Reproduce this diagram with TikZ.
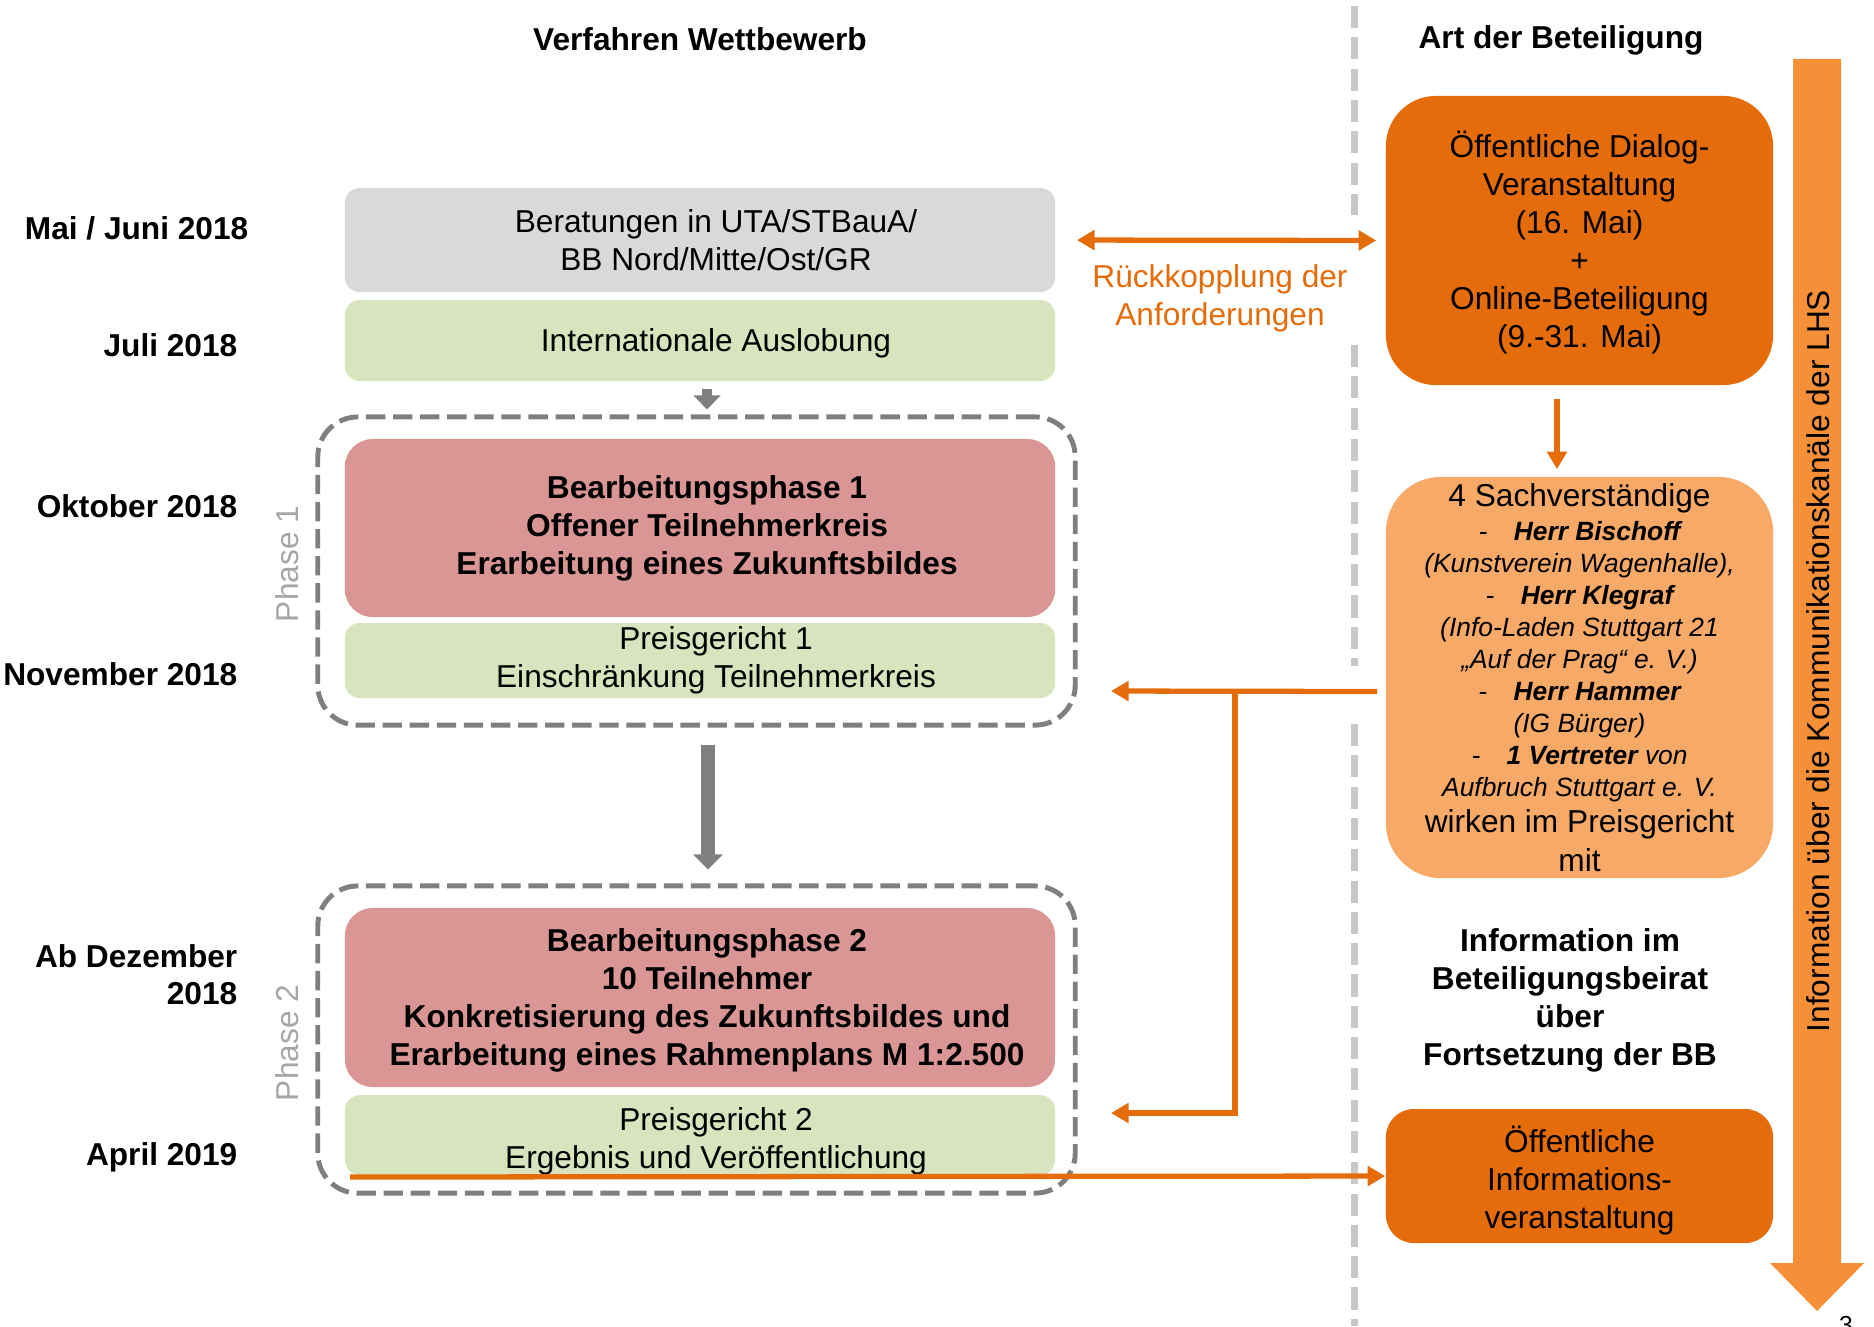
\documentclass[tikz,border=0pt]{standalone}
\usepackage{fontspec}
\setmainfont{Liberation Sans}
\usetikzlibrary{arrows.meta, positioning}
\definecolor{BoxGrey}{HTML}{D9D9D9}
\definecolor{BoxGreen}{HTML}{D7E4BD}
\definecolor{BoxRed}{HTML}{D99694}
\definecolor{COrange}{HTML}{E46C0A}
\definecolor{CLightOrange}{HTML}{F7A968}
\definecolor{CArrowOrange}{HTML}{F59039}
\definecolor{CFrame}{HTML}{7F7F7F}
\definecolor{CSep}{HTML}{C8C8C8}
\definecolor{CPhase}{HTML}{A6A6A6}
\newcommand{\kleinkursiv}{\fontsize{7.5}{9.1}\selectfont\itshape}
% text lines of the left column sit a little right of the box centre
\newcommand{\gz}[1]{\hspace*{0.32cm}#1}
\newcommand{\rz}[1]{\hspace*{0.14cm}#1}
\tikzset{
    feedtip/.tip={Triangle[length=5pt, width=5.5pt]},
    baseblock/.style={
        rectangle,
        draw=none,
        inner sep=0pt,
        align=center,
        font=\fontsize{9}{10.8}\selectfont
    },
    greyblock/.style={
        baseblock,
        fill=BoxGrey,
        minimum width=7.1cm,
        rounded corners=0.15cm
    },
    greenblock/.style={
        baseblock,
        fill=BoxGreen,
        minimum width=7.1cm,
        rounded corners=0.15cm
    },
    redblock/.style={
        baseblock,
        fill=BoxRed,
        minimum width=7.1cm,
        rounded corners=0.28cm,
        font=\fontsize{9}{10.8}\selectfont\bfseries
    },
    phaseframe/.style={
        rectangle,
        draw=CFrame,
        line width=1.4pt,
        dash pattern=on 5.5pt off 2.2pt,
        minimum width=7.57cm,
        rounded corners=0.4cm
    },
    orangeblock/.style={
        baseblock,
        fill=COrange,
        minimum width=3.87cm
    },
    lightblock/.style={
        baseblock,
        fill=CLightOrange,
        minimum width=3.87cm,
        rounded corners=0.55cm,
        font=\fontsize{9}{9.1}\selectfont
    },
    headtext/.style={
        align=center,
        inner sep=0pt,
        font=\fontsize{9}{10.8}\selectfont\bfseries
    },
    datelabel/.style={
        anchor=east,
        align=right,
        inner sep=0pt,
        font=\fontsize{9}{10.5}\selectfont\bfseries
    },
    phaselabel/.style={
        rotate=90,
        inner sep=0pt,
        text=CPhase,
        font=\fontsize{9}{10.8}\selectfont
    },
    feedtext/.style={
        align=center,
        inner sep=0pt,
        text=COrange,
        font=\fontsize{9}{10.8}\selectfont
    },
    feedarrow/.style={
        draw=COrange,
        line width=1.5pt,
        -feedtip
    },
    grayarrow/.style={
        draw=CFrame,
        line width=3pt,
        -{Triangle[length=4pt, width=7.5pt]}
    },
    separator/.style={
        draw=CSep,
        line width=2pt,
        dash pattern=on 6.3pt off 2.6pt
    }
}

\begin{document}
\begin{tikzpicture}[x=0.01cm, y=-0.01cm]
    \useasboundingbox (0,0) rectangle (1874,1326);

    % Headings
    \node[headtext] (titleleft) at (700,39) {Verfahren Wettbewerb};
    \node[headtext] (titleright) at (1561,40) {Art der Beteiligung};

    % Separator
    \draw[separator] (1354,6) -- (1354,215);
    \draw[separator] (1354,345) -- (1354,666);
    \draw[separator] (1354,724) -- (1354,1326);

    % Dates
    \node[datelabel] (maijuni) at (249,228) {Mai / Juni 2018};
    \node[datelabel] (juli) at (238,345) {Juli 2018};
    \node[datelabel] (oktober) at (238,506) {Oktober 2018};
    \node[datelabel] (november) at (238,674) {November 2018};
    \node[datelabel] (dezember) at (238,975) {Ab Dezember\\2018};
    \node[datelabel] (april) at (238,1157) {April 2019};

    % Competition procedure
    \node[greyblock, minimum height=1.04cm] (beratung) at (700,240) {\gz{Beratungen in UTA/STBauA/}\\\gz{BB Nord/Mitte/Ost/GR}};
    \node[greenblock, minimum height=0.81cm] (auslobung) at (700,340.5) {\gz{\rule{0pt}{8pt}Internationale Auslobung}};

    \node[phaseframe, minimum height=3.08cm] (phaseone) at (696.5,571) {};
    \node[phaselabel] (labelone) at (287,564) {Phase 1};
    \node[redblock, minimum height=1.78cm] (bearbone) at (700,528) {\rz{Bearbeitungsphase 1}\\\rz{Offener Teilnehmerkreis}\\\rz{Erarbeitung eines Zukunftsbildes}};
    \node[greenblock, minimum height=0.75cm] (preisone) at (700,660.5) {\gz{Preisgericht 1}\\\gz{Einschränkung Teilnehmerkreis}};

    \node[phaseframe, minimum height=3.07cm] (phasetwo) at (696.5,1039.5) {};
    \node[phaselabel] (labeltwo) at (287,1043) {Phase 2};
    \node[redblock, minimum height=1.79cm] (bearbtwo) at (700,997.5) {\rz{\rule{0pt}{8.2pt}Bearbeitungsphase 2}\\\rz{10 Teilnehmer}\\\rz{Konkretisierung des Zukunftsbildes und}\\\rz{Erarbeitung eines Rahmenplans M 1:2.500}};
    \node[greenblock, minimum height=0.76cm] (preistwo) at (700,1135) {\gz{\rule{0pt}{10pt}Preisgericht 2}\\\gz{Ergebnis und Veröffentlichung}};

    \draw[grayarrow, shorten <=0.07cm, shorten >=0.05cm] ([xshift=0.07cm]auslobung.south) -- ([xshift=0.07cm]auslobung.south |- phaseone.north);
    \draw[draw=CFrame, line width=4pt, -{Triangle[length=4.3pt, width=8.3pt]}, shorten <=0.17cm, shorten >=0.14cm] ([xshift=0.115cm]phaseone.south) -- ([xshift=0.115cm]phasetwo.north);

    % Participation
    \node[orangeblock, minimum height=2.89cm, rounded corners=0.5cm] (dialog) at (1579.5,240.5) {\rule{0pt}{8.5pt}Öffentliche Dialog-\\Veranstaltung\\(16. Mai)\\+\\Online-Beteiligung\\(9.-31. Mai)};
    \node[lightblock, minimum height=4.01cm] (experten) at (1579.5,677.5) {4 Sachverständige\\[0.6pt]
        {\kleinkursiv -\quad\textbf{Herr Bischoff}}\\
        {\kleinkursiv (Kunstverein Wagenhalle),}\\
        {\kleinkursiv -\quad\textbf{Herr Klegraf}}\\
        {\kleinkursiv (Info-Laden Stuttgart 21}\\
        {\kleinkursiv „Auf der Prag“ e. V.)}\\
        {\kleinkursiv -\quad\textbf{Herr Hammer}}\\
        {\kleinkursiv (IG Bürger)}\\
        {\kleinkursiv -\quad\textbf{1 Vertreter} von}\\
        {\kleinkursiv Aufbruch Stuttgart e. V.}\\[0.9pt]
        wirken im Preisgericht\\[2pt]
        mit};
    \node[headtext] (beirat) at (1570,1000) {Information im\\Beteiligungsbeirat\\über\\Fortsetzung der BB};
    \node[orangeblock, minimum height=1.34cm, rounded corners=0.28cm] (infoveranst) at (1579.5,1176) {\rule{0pt}{10pt}Öffentliche\\Informations-\\veranstaltung};

    % Communication channels
    \fill[CArrowOrange] (1793,59) -- (1841,59) -- (1841,1263) -- (1864,1263) -- (1817,1311) -- (1770,1263) -- (1793,1263) -- cycle;
    \node[rotate=90, inner sep=0pt, font=\fontsize{9}{10.8}\selectfont] (kanaele) at (1818,661) {Information über die Kommunikationskanäle der LHS};
    \node[anchor=north, inner sep=0pt, font=\fontsize{7}{8}\selectfont] (seite) at (1846,1316) {3};

    % Feedback
    \draw[feedarrow, feedtip-feedtip, shorten <=0.21cm, shorten >=0.09cm] (beratung.east) -- (dialog.west);
    \node[feedtext] (rueck) at (1220,298) {Rückkopplung der\\Anforderungen};
    \draw[feedarrow, shorten <=0.13cm, shorten >=0.07cm] ([xshift=-0.225cm]dialog.south) -- ([xshift=-0.225cm]experten.north);

    \coordinate (pgonein) at (1111,691);
    \coordinate (pgtwoin) at (1111,1113);
    \coordinate (fork) at (1235,691);
    \coordinate (pgtwoout) at (350,1177);
    \draw[feedarrow, shorten <=0.08cm] ([yshift=-0.14cm]experten.west) -- (pgonein);
    \draw[feedarrow] (fork) |- (pgtwoin);
    \draw[feedarrow] (pgtwoout) -- (infoveranst.west);
\end{tikzpicture}
\end{document}
